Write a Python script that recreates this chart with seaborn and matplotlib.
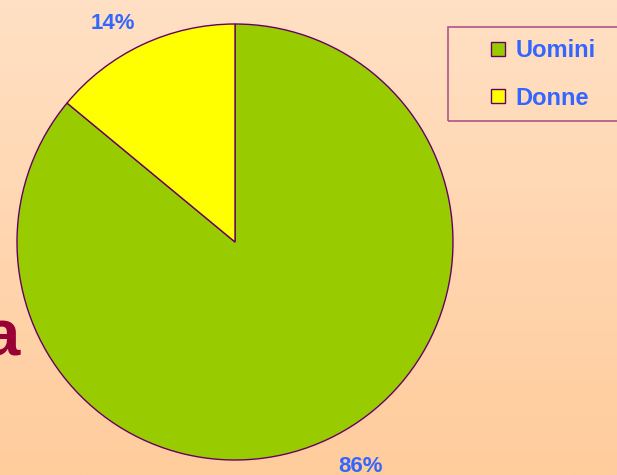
import numpy as np
import matplotlib
matplotlib.use("Agg")
import matplotlib.pyplot as plt
import seaborn as sns
from matplotlib.lines import Line2D

# Data
labels = ["Uomini", "Donne"]
values = [86, 14]

sns.set_theme(style="white")
plt.rcParams['font.family'] = ['Liberation Sans', 'DejaVu Sans']

colors = sns.color_palette(["#99CC00", "#FFFF00"])
edge_col = "#660066"
text_blue = "#3366FF"

W, H = 617, 475
fig = plt.figure(figsize=(W / 100, H / 100), dpi=100)

# Peach gradient background
bg = fig.add_axes([0, 0, 1, 1], zorder=0)
top = np.array([255, 224, 196]) / 255
bottom = np.array([255, 204, 156]) / 255
t = np.linspace(0, 1, 256)[:, None]
grad = top[None, :] * (1 - t) + bottom[None, :] * t
bg.imshow(grad[:, None, :], aspect='auto', extent=[0, 1, 0, 1])
bg.set_axis_off()

# Leftover slide title glyph, clipped at the left edge
fig.text(-17 / W, (H - 355) / H, "a", fontsize=47, fontweight='bold',
         color="#990033", va='baseline', ha='left', zorder=1)

# Pie axes
cx, cy, r = 235, 242, 218
ax = fig.add_axes([(cx - r) / W, (H - cy - r) / H, 2 * r / W, 2 * r / H], zorder=2)
ax.patch.set_alpha(0)
wedges, texts, autotexts = ax.pie(
    values, colors=colors, startangle=90, counterclock=False,
    wedgeprops=dict(edgecolor=edge_col, linewidth=1),
    autopct='%1.0f%%', pctdistance=1.17,
    textprops=dict(color=text_blue, fontsize=16, fontweight='bold'))
ax.set_xlim(-1, 1)
ax.set_ylim(-1, 1)
ax.set_aspect('equal')
ax.set_axis_off()

# nudge percentage labels a bit counter-clockwise, as in the original
for w, at in zip(wedges, autotexts):
    mid = (w.theta1 + w.theta2) / 2
    ang = np.deg2rad(mid + 4)
    dist = 1.15 if np.sin(ang) > 0 else 1.18
    at.set_position((dist * np.cos(ang), dist * np.sin(ang)))
    at.set_clip_on(False)

# Legend
handles = [Line2D([], [], marker='s', linestyle='none', markersize=10,
                  markerfacecolor=c, markeredgecolor=edge_col, markeredgewidth=1)
           for c in colors]
leg = fig.legend(handles, labels, loc='upper left',
                 bbox_to_anchor=(448 / W, 1 - 27 / H, 0.4, 0.0), mode='expand',
                 frameon=True, fancybox=False, fontsize=17,
                 borderpad=0.5, labelspacing=1.05,
                 handlelength=3.2, handletextpad=-0.85, borderaxespad=0)
leg.get_frame().set_edgecolor("#993377")
leg.get_frame().set_linewidth(1.2)
leg.get_frame().set_facecolor('none')
for txt in leg.get_texts():
    txt.set_color(text_blue)
    txt.set_fontweight('bold')

fig.savefig("out.png", dpi=100)
